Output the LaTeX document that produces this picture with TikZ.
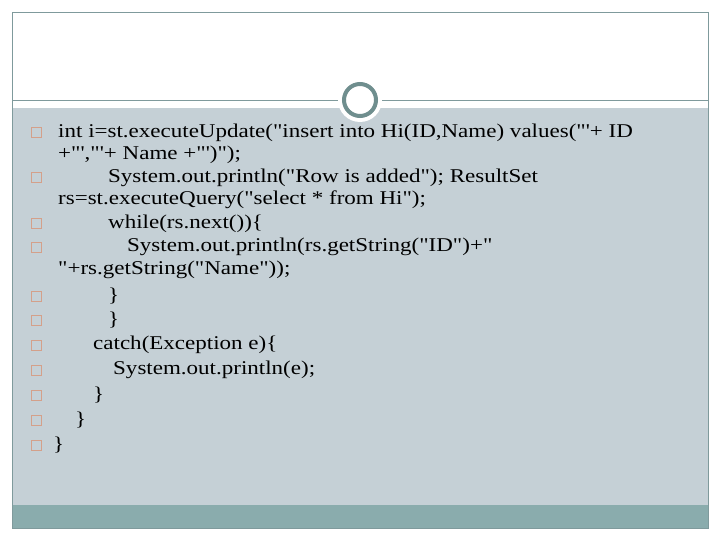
\documentclass[tikz,border=0pt]{standalone}
\usepackage{fontspec}
\setmainfont{Liberation Serif}[Ligatures=TeXOff,FakeStretch=1.18]
\definecolor{panel}{HTML}{C5D0D6}
\definecolor{bar}{HTML}{8AACAD}
\definecolor{edge}{HTML}{7F9A9C}
\definecolor{ring}{HTML}{6F8E8E}
\definecolor{bul}{HTML}{D4A08A}
\begin{document}
\begin{tikzpicture}[x=1pt,y=-1pt,
  bx/.style={draw=bul,line width=1pt,minimum size=10pt,inner sep=0pt},
  tx/.style={anchor=west,inner sep=0pt,font=\fontsize{19.5}{22}\selectfont}]
\useasboundingbox (0,0) rectangle (720,540);
\fill[white] (0,0) rectangle (720,540);
\fill[panel] (12,108) rectangle (708,505);
\fill[bar] (12,505) rectangle (708,528);
\draw[edge,line width=0.6pt] (12,12) rectangle (708,528);
\draw[edge,line width=0.8pt] (12,100) -- (708,100);
\node[circle,fill=white,minimum size=44pt,inner sep=0pt] (cw) at (360,100) {};
\node[circle,draw=ring,line width=4pt,minimum size=32pt,inner sep=0pt] (c) at (360,100) {};
\foreach \y [count=\i] in {133,178,224,247,296,320,345,370,395,420,445}
  \node[bx] (b\i) at (36,\y) {};
\node[tx] (l1) at (58,133) {int i=st.executeUpdate("insert into Hi(ID,Name) values("'+ ID};
\node[tx] (l2) at (58,155) {+"',"'+ Name +"')");};
\node[tx] (l3) at (108,178) {System.out.println("Row is added"); ResultSet};
\node[tx] (l4) at (58,200) {rs=st.executeQuery("select * from Hi");};
\node[tx] (l5) at (108,224) {while(rs.next())\{};
\node[tx] (l6) at (127,247) {System.out.println(rs.getString("ID")+"};
\node[tx] (l7) at (58,270) {"+rs.getString("Name"));};
\node[tx] (l8) at (108,296) {\}};
\node[tx] (l9) at (108,320) {\}};
\node[tx] (l10) at (93,345) {catch(Exception e)\{};
\node[tx] (l11) at (113,370) {System.out.println(e);};
\node[tx] (l12) at (93,395) {\}};
\node[tx] (l13) at (75,420) {\}};
\node[tx] (l14) at (53,445) {\}};
\end{tikzpicture}
\end{document}
